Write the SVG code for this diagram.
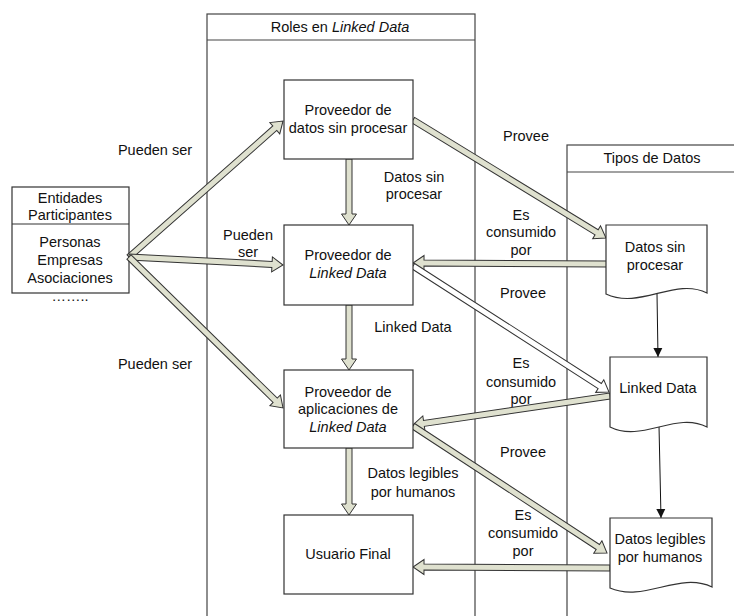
<svg xmlns="http://www.w3.org/2000/svg" width="734" height="616" viewBox="0 0 734 616">
<defs>
<style>
text{font-family:"Liberation Sans",Arial,sans-serif;font-size:14.5px;fill:#111;text-anchor:middle}
.it{font-style:italic}
.box{fill:#fff;stroke:#333;stroke-width:1.2}
.lane{fill:none;stroke:#444;stroke-width:1.2}
.blk{fill:#dfe1cf;stroke:#333;stroke-width:1}
.wht{fill:#fff;stroke:#333;stroke-width:1}
.thin{stroke:#111;stroke-width:1;fill:none;marker-end:url(#tri)}
</style>
<marker id="tri" viewBox="0 0 10 10" refX="10" refY="5" markerWidth="9" markerHeight="12" markerUnits="userSpaceOnUse" orient="auto">
<path d="M0,0 L10,5 L0,10 Z" fill="#111"/>
</marker>
</defs>
<rect width="734" height="616" fill="#fff"/>

<g id="lane-roles">
<rect class="lane" x="207" y="14" width="268" height="620"/>
<line class="lane" x1="207" y1="40" x2="475" y2="40"/>
<text x="340" y="32">Roles en <tspan class="it">Linked Data</tspan></text>
</g>
<g id="lane-tipos">
<rect class="lane" x="567" y="145" width="180" height="490"/>
<line class="lane" x1="567" y1="172" x2="747" y2="172"/>
<text x="652" y="163">Tipos de Datos</text>
</g>

<g id="entidades">
<rect class="box" x="12" y="187" width="117" height="106"/>
<line class="box" x1="12" y1="224" x2="129" y2="224"/>
<text x="70" y="203">Entidades</text>
<text x="70" y="220">Participantes</text>
<text x="70" y="247">Personas</text>
<text x="70" y="265">Empresas</text>
<text x="70" y="283">Asociaciones</text>
<text x="70" y="301">……..</text>
</g>

<g id="connectors">
<polygon class="blk" transform="translate(129,257) rotate(-41.45)" points="0,-3 194.5,-3 194.5,-7.5 205.5,0 194.5,7.5 194.5,3 0,3"/>
<polygon class="blk" transform="translate(129,257) rotate(2.97)" points="0,-3 143.2,-3 143.2,-7.5 154.2,0 143.2,7.5 143.2,3 0,3"/>
<polygon class="blk" transform="translate(129,257) rotate(44.43)" points="0,-3 204.7,-3 204.7,-7.5 215.7,0 204.7,7.5 204.7,3 0,3"/>
<polygon class="blk" transform="translate(349,159) rotate(90)" points="0,-3 55,-3 55,-7.5 66,0 55,7.5 55,3 0,3"/>
<polygon class="blk" transform="translate(349,305) rotate(90)" points="0,-3 54,-3 54,-7.5 65,0 54,7.5 54,3 0,3"/>
<polygon class="blk" transform="translate(349,448) rotate(90)" points="0,-3 56,-3 56,-7.5 67,0 56,7.5 56,3 0,3"/>
<polygon class="blk" transform="translate(413,120) rotate(31.44)" points="0,-3 215.2,-3 215.2,-7.5 226.2,0 215.2,7.5 215.2,3 0,3"/>
<polygon class="blk" transform="translate(607,264) rotate(180.3)" points="0,-3 183,-3 183,-7.5 194,0 183,7.5 183,3 0,3"/>
<polygon class="wht" transform="translate(413,266) rotate(32.74)" points="0,-3 222,-3 222,-7.5 233,0 222,7.5 222,3 0,3"/>
<polygon class="blk" transform="translate(610,396) rotate(171.63)" points="0,-3 188.1,-3 188.1,-7.5 199.1,0 188.1,7.5 188.1,3 0,3"/>
<polygon class="blk" transform="translate(413,426) rotate(33.21)" points="0,-3 220.9,-3 220.9,-7.5 231.9,0 220.9,7.5 220.9,3 0,3"/>
<polygon class="blk" transform="translate(610,568) rotate(180.3)" points="0,-3 186,-3 186,-7.5 197,0 186,7.5 186,3 0,3"/>
<line class="thin" x1="657" y1="294" x2="658" y2="357"/>
<line class="thin" x1="659" y1="426" x2="661" y2="518"/>
</g>

<g id="labels">
<text x="155" y="155">Pueden ser</text>
<text x="248" y="240">Pueden</text>
<text x="248" y="257">ser</text>
<text x="155" y="369">Pueden ser</text>
<text x="414" y="182">Datos sin</text>
<text x="414" y="199">procesar</text>
<text x="413" y="332">Linked Data</text>
<text x="413" y="478">Datos legibles</text>
<text x="413" y="497">por humanos</text>
<text x="526" y="141">Provee</text>
<text x="521" y="220">Es</text>
<text x="521" y="237">consumido</text>
<text x="521" y="255">por</text>
<text x="523" y="298">Provee</text>
<text x="521" y="368">Es</text>
<text x="521" y="387">consumido</text>
<text x="521" y="404">por</text>
<text x="523" y="457">Provee</text>
<text x="523" y="520">Es</text>
<text x="523" y="538">consumido</text>
<text x="523" y="556">por</text>
</g>

<g id="prov-datos">
<rect class="box" x="284" y="80" width="129" height="79"/>
<text x="348" y="115">Proveedor de</text>
<text x="348" y="133">datos sin procesar</text>
</g>
<g id="prov-ld">
<rect class="box" x="284" y="225" width="129" height="80"/>
<text x="348" y="260">Proveedor de</text>
<text x="348" y="278" class="it">Linked Data</text>
</g>
<g id="prov-apps">
<rect class="box" x="284" y="370" width="129" height="78"/>
<text x="348" y="397">Proveedor de</text>
<text x="348" y="414">aplicaciones de</text>
<text x="348" y="432" class="it">Linked Data</text>
</g>
<g id="usuario">
<rect class="box" x="284" y="515" width="129" height="79"/>
<text x="348" y="559">Usuario Final</text>
</g>

<g id="doc-datos">
<path class="box" d="M606,225 H707 V293 C675,277 640,310 606,294 Z"/>
<text x="655" y="252">Datos sin</text>
<text x="655" y="270">procesar</text>
</g>
<g id="doc-ld">
<path class="box" d="M610,357 H707 V427 C676,411 642,443 610,427 Z"/>
<text x="658" y="393">Linked Data</text>
</g>
<g id="doc-legibles">
<path class="box" d="M610,518 H712 V587 C679,571 644,603 610,588 Z"/>
<text x="660" y="544">Datos legibles</text>
<text x="660" y="562">por humanos</text>
</g>
</svg>
